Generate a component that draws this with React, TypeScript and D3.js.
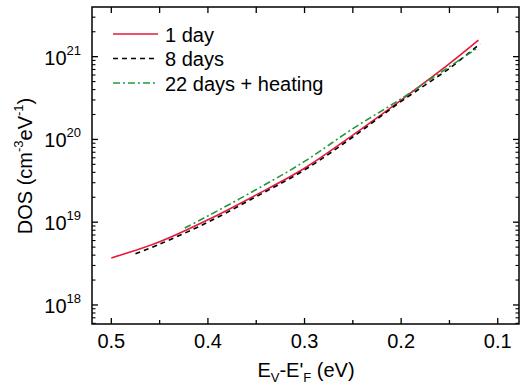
import React from "react";
import * as d3 from "d3";

const day1X = [0.5, 0.45, 0.4, 0.35, 0.3, 0.25, 0.2, 0.15, 0.12];
const day1Y = [3.7e18, 5.81e18, 1.07e19, 2.14e19, 4.49e19, 1.13e20, 2.99e20, 8.22e20, 1.58e21];

const day8X = [0.475, 0.45, 0.4, 0.35, 0.3, 0.25, 0.2, 0.15, 0.118];
const day8Y = [4.17e18, 5.43e18, 1.0e19, 2.04e19, 4.27e19, 1.07e20, 2.88e20, 7.24e20, 1.44e21];

const day22X = [0.424, 0.4, 0.35, 0.3, 0.25, 0.2, 0.15, 0.12];
const day22Y = [8.51e18, 1.19e19, 2.48e19, 5.42e19, 1.35e20, 3.1e20, 7.57e20, 1.29e21];

const xMajor = [0.5, 0.4, 0.3, 0.2, 0.1];
const xMinor = [0.45, 0.35, 0.25, 0.15];
const yMajorExp = [18, 19, 20, 21];

const W = 520, H = 388;
const L = 92, R = 519, T = 7, B = 324;
const FONT = "'Liberation Sans', Arial, sans-serif";

export default function App() {
  const x = d3.scaleLinear().domain([0.52, 0.078]).range([L, R]);
  const y = d3.scaleLog().domain([Math.pow(10, 17.77), Math.pow(10, 21.6)]).range([B, T]);
  const line = d3
    .line<[number, number]>()
    .x((d) => x(d[0]))
    .y((d) => y(d[1]))
    .curve(d3.curveCatmullRom);
  const toPts = (xs: number[], ys: number[]) => xs.map((v, i) => [v, ys[i]] as [number, number]);

  const [y0, y1] = y.domain();
  const minorY: number[] = [];
  for (let e = 17; e <= 21; e++) {
    for (let m = 2; m <= 9; m++) {
      const v = m * Math.pow(10, e);
      if (v >= y0 && v <= y1) minorY.push(v);
    }
  }

  const series = [
    { pts: toPts(day1X, day1Y), color: "#e8173c", dash: "", label: "1 day" },
    { pts: toPts(day8X, day8Y), color: "#000000", dash: "5,4", label: "8 days" },
    { pts: toPts(day22X, day22Y), color: "#1f9a3e", dash: "7,3,2,3", label: "22 days + heating" },
  ];

  return (
    <svg width={W} height={H} style={{ position: "absolute", left: 0, top: 0, background: "#fff" }} fontFamily={FONT}>
      <rect x={0} y={0} width={W} height={H} fill="#fff" />
      {series.map((s, i) => (
        <path key={i} d={line(s.pts) || ""} fill="none" stroke={s.color} strokeWidth={1.6} strokeDasharray={s.dash} />
      ))}
      <rect x={L} y={T} width={R - L} height={B - T} fill="none" stroke="#000" strokeWidth={1.5} />
      {xMajor.map((v) => (
        <g key={"xm" + v}>
          <line x1={x(v)} x2={x(v)} y1={B} y2={B - 6} stroke="#000" strokeWidth={1.3} />
          <line x1={x(v)} x2={x(v)} y1={T} y2={T + 6} stroke="#000" strokeWidth={1.3} />
          <text x={x(v)} y={348} fontSize={20} textAnchor="middle" fill="#000">
            {v.toFixed(1)}
          </text>
        </g>
      ))}
      {xMinor.map((v) => (
        <g key={"xn" + v}>
          <line x1={x(v)} x2={x(v)} y1={B} y2={B - 4} stroke="#000" strokeWidth={1.3} />
          <line x1={x(v)} x2={x(v)} y1={T} y2={T + 6} stroke="#000" strokeWidth={1.3} />
        </g>
      ))}
      {yMajorExp.map((e) => {
        const yy = y(Math.pow(10, e));
        return (
          <g key={"ym" + e}>
            <line x1={L} x2={L + 6} y1={yy} y2={yy} stroke="#000" strokeWidth={1.3} />
            <line x1={R} x2={R - 6} y1={yy} y2={yy} stroke="#000" strokeWidth={1.3} />
            <text x={81} y={yy + 8} fontSize={20} textAnchor="end" fill="#000">
              10
              <tspan fontSize={13} dy={-10}>
                {e}
              </tspan>
            </text>
          </g>
        );
      })}
      {minorY.map((v, i) => (
        <g key={"yn" + i}>
          <line x1={L} x2={L + 3.5} y1={y(v)} y2={y(v)} stroke="#000" strokeWidth={1.1} />
          <line x1={R} x2={R - 3.5} y1={y(v)} y2={y(v)} stroke="#000" strokeWidth={1.1} />
        </g>
      ))}
      {series.map((s, i) => {
        const ly = 34 + i * 24.5;
        return (
          <g key={"lg" + i}>
            <line x1={113} x2={158} y1={ly} y2={ly} stroke={s.color} strokeWidth={1.6} strokeDasharray={s.dash} />
            <text x={165} y={ly + 7.5} fontSize={20} fill="#000">
              {s.label}
            </text>
          </g>
        );
      })}
      <text x={306} y={377} fontSize={20} textAnchor="middle" fill="#000">
        E<tspan fontSize={13} dy={5}>V</tspan>
        <tspan dy={-5}>-E'</tspan>
        <tspan fontSize={13} dy={5}>F</tspan>
        <tspan dy={-5}> (eV)</tspan>
      </text>
      <text transform="translate(32,166) rotate(-90)" fontSize={20} textAnchor="middle" fill="#000">
        DOS (cm<tspan fontSize={13} dy={-9}>-3</tspan>
        <tspan dy={9}>eV</tspan>
        <tspan fontSize={13} dy={-9}>-1</tspan>
        <tspan dy={9}>)</tspan>
      </text>
    </svg>
  );
}
